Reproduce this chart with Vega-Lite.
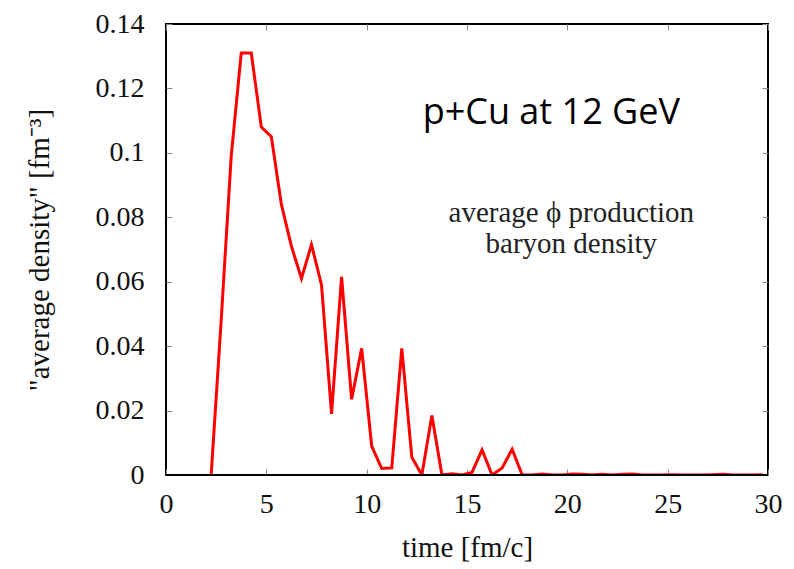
{
  "$schema": "https://vega.github.io/schema/vega-lite/v6.json",
  "autosize": "none",
  "width": 602,
  "height": 451,
  "padding": {"left": 166, "top": 24, "right": 26, "bottom": 94},
  "background": "#ffffff",
  "config": {
    "view": {"stroke": "#000000", "strokeWidth": 2},
    "axis": {
      "labelFont": "Liberation Serif",
      "titleFont": "Liberation Serif",
      "labelFontSize": 28,
      "titleFontSize": 29,
      "labelColor": "#111111",
      "titleColor": "#111111",
      "titleFontWeight": "normal",
      "grid": false,
      "domain": false,
      "tickColor": "#888888",
      "tickSize": -6,
      "tickWidth": 1
    }
  },
  "data": {
    "values": [
      {"t": 2.25, "d": 0}, {"t": 2.75, "d": 0.048}, {"t": 3.25, "d": 0.099}, {"t": 3.75, "d": 0.131},
      {"t": 4.25, "d": 0.131}, {"t": 4.75, "d": 0.108}, {"t": 5.25, "d": 0.105}, {"t": 5.75, "d": 0.084},
      {"t": 6.25, "d": 0.071}, {"t": 6.75, "d": 0.061}, {"t": 7.25, "d": 0.0715}, {"t": 7.75, "d": 0.059},
      {"t": 8.25, "d": 0.019}, {"t": 8.75, "d": 0.0615}, {"t": 9.25, "d": 0.0235}, {"t": 9.75, "d": 0.0393},
      {"t": 10.25, "d": 0.009}, {"t": 10.75, "d": 0.002}, {"t": 11.25, "d": 0.0022}, {"t": 11.75, "d": 0.0393},
      {"t": 12.25, "d": 0.0055}, {"t": 12.75, "d": 0}, {"t": 13.25, "d": 0.0185}, {"t": 13.75, "d": 0},
      {"t": 14.25, "d": 0.0004}, {"t": 14.75, "d": 0}, {"t": 15.25, "d": 0.0008}, {"t": 15.75, "d": 0.0078},
      {"t": 16.25, "d": 0}, {"t": 16.75, "d": 0.0022}, {"t": 17.25, "d": 0.008}, {"t": 17.75, "d": 0},
      {"t": 18.25, "d": 0}, {"t": 18.75, "d": 0.0003}, {"t": 19.25, "d": 0}, {"t": 19.75, "d": 0},
      {"t": 20.25, "d": 0.0003}, {"t": 20.75, "d": 0.0002}, {"t": 21.25, "d": 0}, {"t": 21.75, "d": 0.0002},
      {"t": 22.25, "d": 0}, {"t": 22.75, "d": 0.0002}, {"t": 23.25, "d": 0.0003}, {"t": 23.75, "d": 0},
      {"t": 24.25, "d": 0}, {"t": 24.75, "d": 0}, {"t": 25.25, "d": 0.0001}, {"t": 25.75, "d": 0},
      {"t": 26.25, "d": 0}, {"t": 26.75, "d": 0}, {"t": 27.25, "d": 0.0001}, {"t": 27.75, "d": 0.0002},
      {"t": 28.25, "d": 0}, {"t": 28.75, "d": 0}, {"t": 29.25, "d": 0}, {"t": 29.75, "d": 0.0001}
    ]
  },
  "layer": [
    {
      "mark": {"type": "line", "color": "#ff0000", "strokeWidth": 3, "clip": true},
      "encoding": {
        "x": {
          "field": "t", "type": "quantitative",
          "scale": {"domain": [0, 30], "nice": false},
          "axis": {"values": [0, 5, 10, 15, 20, 25, 30], "title": "time [fm/c]", "labelPadding": 21, "titlePadding": 15, "labelFlush": false}
        },
        "y": {
          "field": "d", "type": "quantitative",
          "scale": {"domain": [0, 0.14], "nice": false},
          "axis": {"values": [0, 0.02, 0.04, 0.06, 0.08, 0.1, 0.12, 0.14], "format": "~g", "title": "\"average density\" [fm⁻³]", "labelPadding": 28, "titlePadding": 41, "labelFlush": false}
        }
      }
    },
    {
      "mark": {"type": "line", "opacity": 0},
      "encoding": {
        "x": {"field": "t", "type": "quantitative", "axis": {"orient": "top", "values": [0, 5, 10, 15, 20, 25, 30], "labels": false, "title": null}},
        "y": {"field": "d", "type": "quantitative", "axis": {"orient": "right", "values": [0, 0.02, 0.04, 0.06, 0.08, 0.1, 0.12, 0.14], "labels": false, "title": null}}
      }
    },
    {
      "mark": {"type": "rule", "color": "#000000", "strokeWidth": 2},
      "encoding": {
        "y": {"datum": 0, "axis": null}
      }
    },
    {
      "data": {"values": [{"label": "p+Cu at 12 GeV"}]},
      "mark": {"type": "text", "font": "Open Sans", "fontSize": 36, "align": "center", "baseline": "alphabetic", "color": "#000000"},
      "encoding": {
        "text": {"field": "label"},
        "x": {"datum": 19.2, "axis": null},
        "y": {"datum": 0.109, "axis": null}
      }
    },
    {
      "data": {"values": [{"label": "average ϕ production\nbaryon density"}]},
      "mark": {"type": "text", "font": "Liberation Serif", "fontSize": 29, "align": "center", "baseline": "alphabetic", "lineBreak": "\n", "lineHeight": 31, "color": "#222222"},
      "encoding": {
        "text": {"field": "label"},
        "x": {"datum": 20.2, "axis": null},
        "y": {"datum": 0.0785, "axis": null}
      }
    }
  ],
  "resolve": {"axis": {"x": "independent", "y": "independent"}}
}
